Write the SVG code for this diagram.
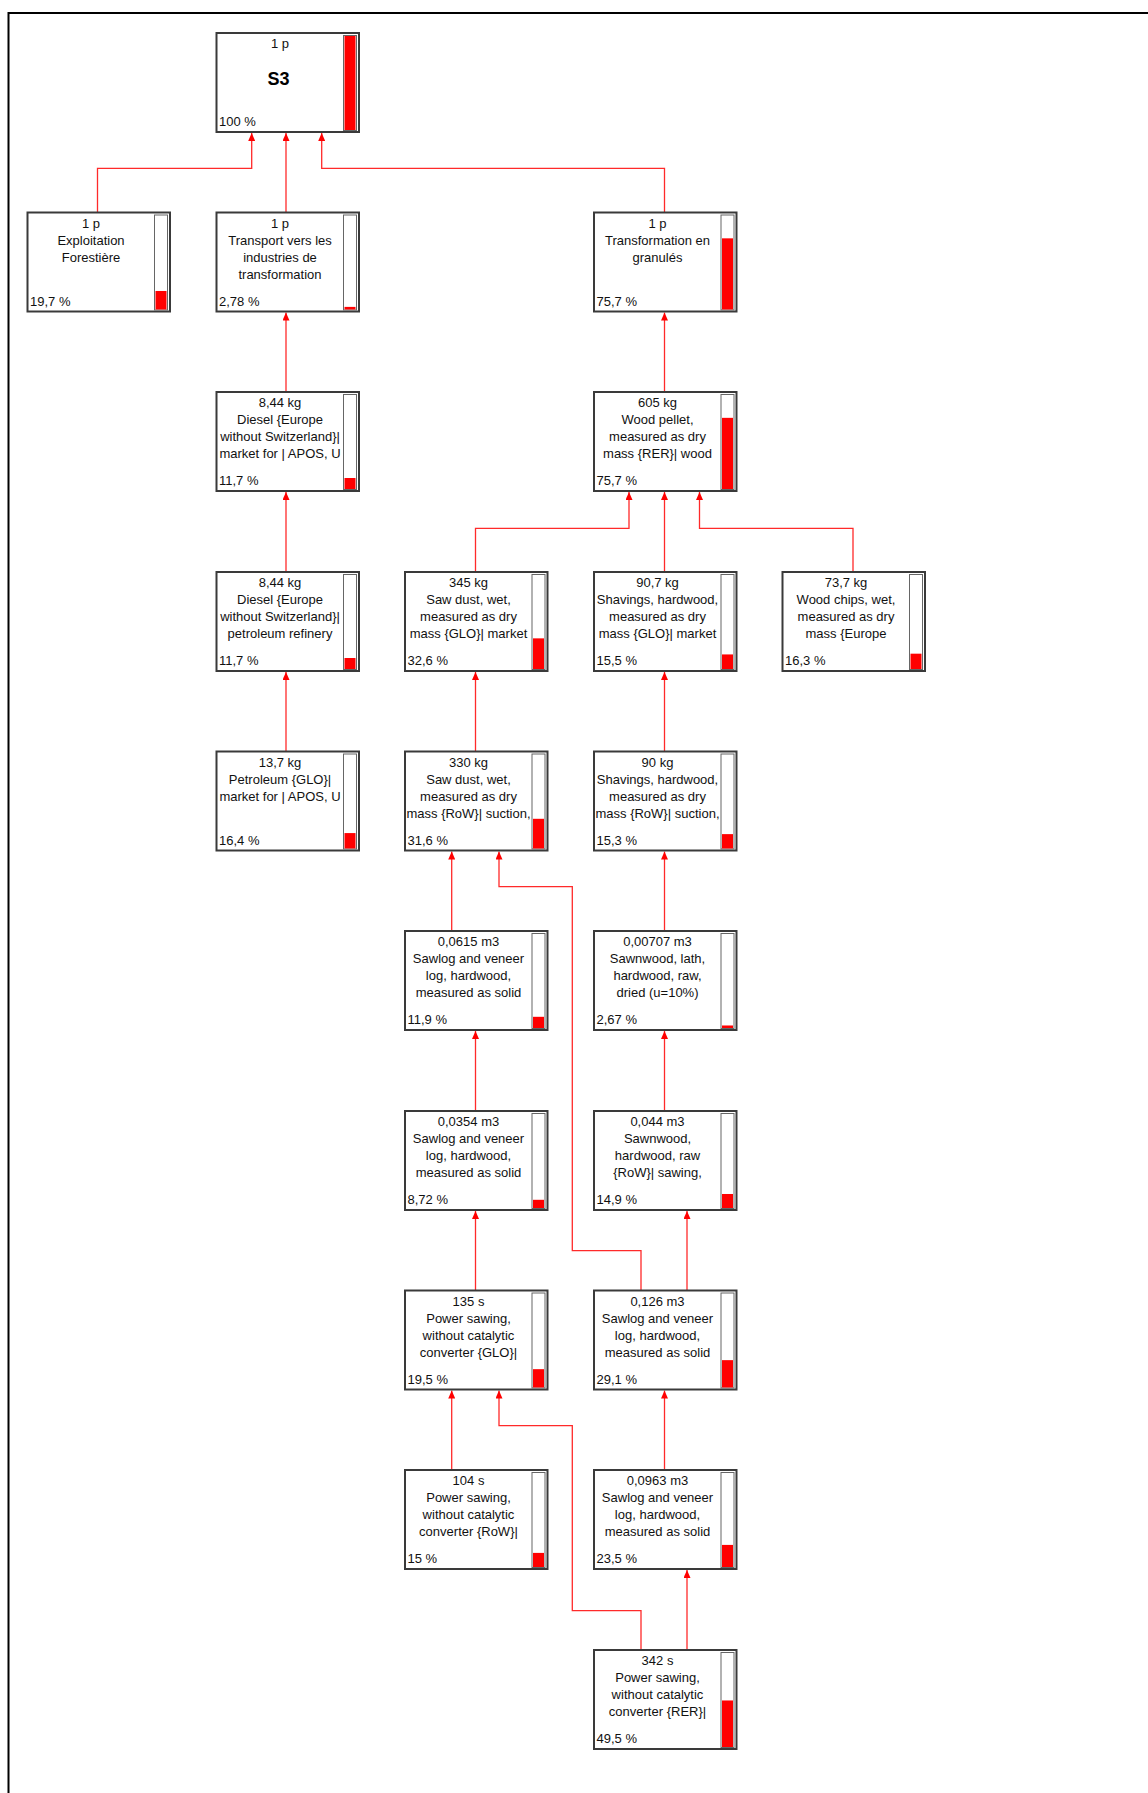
<svg xmlns="http://www.w3.org/2000/svg" width="1148" height="1793" viewBox="0 0 1148 1793">
<style>
.box{fill:#fff;stroke:#3a3a3a;stroke-width:2}
.bar{fill:#fff;stroke:#666;stroke-width:1}
.lvl{fill:#f00}
.t{font-family:"Liberation Sans",Arial,sans-serif;font-size:13px;fill:#111;text-anchor:middle}
.p{font-family:"Liberation Sans",Arial,sans-serif;font-size:13px;fill:#111;text-anchor:start}
.big{font-family:"Liberation Sans",Arial,sans-serif;font-size:18px;font-weight:bold;fill:#000;text-anchor:middle}
.wire{fill:none;stroke:#ff2a2a;stroke-width:1.3}
</style>
<defs>
<marker id="arr" viewBox="0 0 8 7" refX="8" refY="3.5" markerWidth="8" markerHeight="7" markerUnits="userSpaceOnUse" orient="auto">
<path d="M0,0 L8,3.5 L0,7 z" fill="#ff0000"/>
</marker>
</defs>
<rect width="1148" height="1793" fill="#fff"/>
<path d="M1148,13 H8.5 V1793" fill="none" stroke="#000" stroke-width="2"/>

<g id="connectors">
<path class="wire" marker-end="url(#arr)" d="M97.5,212.5 V168.3 H251.7 V133"/>
<path class="wire" marker-end="url(#arr)" d="M286,212.5 V133"/>
<path class="wire" marker-end="url(#arr)" d="M664.5,212.5 V168.3 H321.7 V133"/>
<path class="wire" marker-end="url(#arr)" d="M286,392 V312.5"/>
<path class="wire" marker-end="url(#arr)" d="M664.5,392 V312.5"/>
<path class="wire" marker-end="url(#arr)" d="M286,572 V492"/>
<path class="wire" marker-end="url(#arr)" d="M475.5,572 V528.3 H629 V492"/>
<path class="wire" marker-end="url(#arr)" d="M664.5,572 V492"/>
<path class="wire" marker-end="url(#arr)" d="M853,572 V528.3 H699.5 V492"/>
<path class="wire" marker-end="url(#arr)" d="M286,751.5 V672"/>
<path class="wire" marker-end="url(#arr)" d="M475.5,751.5 V672"/>
<path class="wire" marker-end="url(#arr)" d="M664.5,751.5 V672"/>
<path class="wire" marker-end="url(#arr)" d="M451.7,931 V851.5"/>
<path class="wire" marker-end="url(#arr)" d="M641,1290.5 V1250.7 H572.3 V886.7 H499 V851.5"/>
<path class="wire" marker-end="url(#arr)" d="M664.5,931 V851.5"/>
<path class="wire" marker-end="url(#arr)" d="M475.5,1111 V1031"/>
<path class="wire" marker-end="url(#arr)" d="M664.5,1111 V1031"/>
<path class="wire" marker-end="url(#arr)" d="M475.5,1290.5 V1211"/>
<path class="wire" marker-end="url(#arr)" d="M687,1290.5 V1211"/>
<path class="wire" marker-end="url(#arr)" d="M451.7,1470 V1390.5"/>
<path class="wire" marker-end="url(#arr)" d="M641,1650 V1610.7 H572.3 V1425.7 H499 V1390.5"/>
<path class="wire" marker-end="url(#arr)" d="M664.5,1470 V1390.5"/>
<path class="wire" marker-end="url(#arr)" d="M687,1650 V1570"/>
</g>

<g id="n-s3" transform="translate(216.5,33)">
<rect class="box" width="142.5" height="99"/>
<rect class="bar" x="127" y="2.5" width="13" height="95"/>
<rect class="lvl" x="128" y="3" width="11" height="94"/>
<text class="t" x="63.5" y="15">1 p</text>
<text class="big" x="62" y="52">S3</text>
<text class="p" x="2.5" y="93">100 %</text>
</g>

<g id="n-exploitation" transform="translate(27.5,212.5)">
<rect class="box" width="142.5" height="99"/>
<rect class="bar" x="127" y="2.5" width="13" height="95"/>
<rect class="lvl" x="128" y="78.48" width="11" height="18.52"/>
<text class="t" x="63.5" y="15">1 p</text>
<text class="t" x="63.5" y="32">Exploitation</text>
<text class="t" x="63.5" y="49">Forestière</text>
<text class="p" x="2.5" y="93">19,7 %</text>
</g>

<g id="n-transport" transform="translate(216.5,212.5)">
<rect class="box" width="142.5" height="99"/>
<rect class="bar" x="127" y="2.5" width="13" height="95"/>
<rect class="lvl" x="128" y="94.39" width="11" height="2.61"/>
<text class="t" x="63.5" y="15">1 p</text>
<text class="t" x="63.5" y="32">Transport vers les</text>
<text class="t" x="63.5" y="49">industries de</text>
<text class="t" x="63.5" y="66">transformation</text>
<text class="p" x="2.5" y="93">2,78 %</text>
</g>

<g id="n-transformation" transform="translate(594,212.5)">
<rect class="box" width="142.5" height="99"/>
<rect class="bar" x="127" y="2.5" width="13" height="95"/>
<rect class="lvl" x="128" y="25.84" width="11" height="71.16"/>
<text class="t" x="63.5" y="15">1 p</text>
<text class="t" x="63.5" y="32">Transformation en</text>
<text class="t" x="63.5" y="49">granulés</text>
<text class="p" x="2.5" y="93">75,7 %</text>
</g>

<g id="n-diesel-market" transform="translate(216.5,392)">
<rect class="box" width="142.5" height="99"/>
<rect class="bar" x="127" y="2.5" width="13" height="95"/>
<rect class="lvl" x="128" y="86" width="11" height="11"/>
<text class="t" x="63.5" y="15">8,44 kg</text>
<text class="t" x="63.5" y="32">Diesel {Europe</text>
<text class="t" x="63.5" y="49">without Switzerland}|</text>
<text class="t" x="63.5" y="66">market for | APOS, U</text>
<text class="p" x="2.5" y="93">11,7 %</text>
</g>

<g id="n-wood-pellet" transform="translate(594,392)">
<rect class="box" width="142.5" height="99"/>
<rect class="bar" x="127" y="2.5" width="13" height="95"/>
<rect class="lvl" x="128" y="25.84" width="11" height="71.16"/>
<text class="t" x="63.5" y="15">605 kg</text>
<text class="t" x="63.5" y="32">Wood pellet,</text>
<text class="t" x="63.5" y="49">measured as dry</text>
<text class="t" x="63.5" y="66">mass {RER}| wood</text>
<text class="p" x="2.5" y="93">75,7 %</text>
</g>

<g id="n-diesel-refinery" transform="translate(216.5,572)">
<rect class="box" width="142.5" height="99"/>
<rect class="bar" x="127" y="2.5" width="13" height="95"/>
<rect class="lvl" x="128" y="86" width="11" height="11"/>
<text class="t" x="63.5" y="15">8,44 kg</text>
<text class="t" x="63.5" y="32">Diesel {Europe</text>
<text class="t" x="63.5" y="49">without Switzerland}|</text>
<text class="t" x="63.5" y="66">petroleum refinery</text>
<text class="p" x="2.5" y="93">11,7 %</text>
</g>

<g id="n-sawdust-345" transform="translate(405,572)">
<rect class="box" width="142.5" height="99"/>
<rect class="bar" x="127" y="2.5" width="13" height="95"/>
<rect class="lvl" x="128" y="66.36" width="11" height="30.64"/>
<text class="t" x="63.5" y="15">345 kg</text>
<text class="t" x="63.5" y="32">Saw dust, wet,</text>
<text class="t" x="63.5" y="49">measured as dry</text>
<text class="t" x="63.5" y="66">mass {GLO}| market</text>
<text class="p" x="2.5" y="93">32,6 %</text>
</g>

<g id="n-shavings-907" transform="translate(594,572)">
<rect class="box" width="142.5" height="99"/>
<rect class="bar" x="127" y="2.5" width="13" height="95"/>
<rect class="lvl" x="128" y="82.43" width="11" height="14.57"/>
<text class="t" x="63.5" y="15">90,7 kg</text>
<text class="t" x="63.5" y="32">Shavings, hardwood,</text>
<text class="t" x="63.5" y="49">measured as dry</text>
<text class="t" x="63.5" y="66">mass {GLO}| market</text>
<text class="p" x="2.5" y="93">15,5 %</text>
</g>

<g id="n-wood-chips" transform="translate(782.5,572)">
<rect class="box" width="142.5" height="99"/>
<rect class="bar" x="127" y="2.5" width="13" height="95"/>
<rect class="lvl" x="128" y="81.68" width="11" height="15.32"/>
<text class="t" x="63.5" y="15">73,7 kg</text>
<text class="t" x="63.5" y="32">Wood chips, wet,</text>
<text class="t" x="63.5" y="49">measured as dry</text>
<text class="t" x="63.5" y="66">mass {Europe</text>
<text class="p" x="2.5" y="93">16,3 %</text>
</g>

<g id="n-petroleum" transform="translate(216.5,751.5)">
<rect class="box" width="142.5" height="99"/>
<rect class="bar" x="127" y="2.5" width="13" height="95"/>
<rect class="lvl" x="128" y="81.58" width="11" height="15.42"/>
<text class="t" x="63.5" y="15">13,7 kg</text>
<text class="t" x="63.5" y="32">Petroleum {GLO}|</text>
<text class="t" x="63.5" y="49">market for | APOS, U</text>
<text class="p" x="2.5" y="93">16,4 %</text>
</g>

<g id="n-sawdust-330" transform="translate(405,751.5)">
<rect class="box" width="142.5" height="99"/>
<rect class="bar" x="127" y="2.5" width="13" height="95"/>
<rect class="lvl" x="128" y="67.3" width="11" height="29.7"/>
<text class="t" x="63.5" y="15">330 kg</text>
<text class="t" x="63.5" y="32">Saw dust, wet,</text>
<text class="t" x="63.5" y="49">measured as dry</text>
<text class="t" x="63.5" y="66">mass {RoW}| suction,</text>
<text class="p" x="2.5" y="93">31,6 %</text>
</g>

<g id="n-shavings-90" transform="translate(594,751.5)">
<rect class="box" width="142.5" height="99"/>
<rect class="bar" x="127" y="2.5" width="13" height="95"/>
<rect class="lvl" x="128" y="82.62" width="11" height="14.38"/>
<text class="t" x="63.5" y="15">90 kg</text>
<text class="t" x="63.5" y="32">Shavings, hardwood,</text>
<text class="t" x="63.5" y="49">measured as dry</text>
<text class="t" x="63.5" y="66">mass {RoW}| suction,</text>
<text class="p" x="2.5" y="93">15,3 %</text>
</g>

<g id="n-sawlog-0615" transform="translate(405,931)">
<rect class="box" width="142.5" height="99"/>
<rect class="bar" x="127" y="2.5" width="13" height="95"/>
<rect class="lvl" x="128" y="85.81" width="11" height="11.19"/>
<text class="t" x="63.5" y="15">0,0615 m3</text>
<text class="t" x="63.5" y="32">Sawlog and veneer</text>
<text class="t" x="63.5" y="49">log, hardwood,</text>
<text class="t" x="63.5" y="66">measured as solid</text>
<text class="p" x="2.5" y="93">11,9 %</text>
</g>

<g id="n-sawnwood-lath" transform="translate(594,931)">
<rect class="box" width="142.5" height="99"/>
<rect class="bar" x="127" y="2.5" width="13" height="95"/>
<rect class="lvl" x="128" y="94.49" width="11" height="2.51"/>
<text class="t" x="63.5" y="15">0,00707 m3</text>
<text class="t" x="63.5" y="32">Sawnwood, lath,</text>
<text class="t" x="63.5" y="49">hardwood, raw,</text>
<text class="t" x="63.5" y="66">dried (u=10%)</text>
<text class="p" x="2.5" y="93">2,67 %</text>
</g>

<g id="n-sawlog-0354" transform="translate(405,1111)">
<rect class="box" width="142.5" height="99"/>
<rect class="bar" x="127" y="2.5" width="13" height="95"/>
<rect class="lvl" x="128" y="88.8" width="11" height="8.2"/>
<text class="t" x="63.5" y="15">0,0354 m3</text>
<text class="t" x="63.5" y="32">Sawlog and veneer</text>
<text class="t" x="63.5" y="49">log, hardwood,</text>
<text class="t" x="63.5" y="66">measured as solid</text>
<text class="p" x="2.5" y="93">8,72 %</text>
</g>

<g id="n-sawnwood-044" transform="translate(594,1111)">
<rect class="box" width="142.5" height="99"/>
<rect class="bar" x="127" y="2.5" width="13" height="95"/>
<rect class="lvl" x="128" y="82.99" width="11" height="14.01"/>
<text class="t" x="63.5" y="15">0,044 m3</text>
<text class="t" x="63.5" y="32">Sawnwood,</text>
<text class="t" x="63.5" y="49">hardwood, raw</text>
<text class="t" x="63.5" y="66">{RoW}| sawing,</text>
<text class="p" x="2.5" y="93">14,9 %</text>
</g>

<g id="n-powersaw-glo" transform="translate(405,1290.5)">
<rect class="box" width="142.5" height="99"/>
<rect class="bar" x="127" y="2.5" width="13" height="95"/>
<rect class="lvl" x="128" y="78.67" width="11" height="18.33"/>
<text class="t" x="63.5" y="15">135 s</text>
<text class="t" x="63.5" y="32">Power sawing,</text>
<text class="t" x="63.5" y="49">without catalytic</text>
<text class="t" x="63.5" y="66">converter {GLO}|</text>
<text class="p" x="2.5" y="93">19,5 %</text>
</g>

<g id="n-sawlog-126" transform="translate(594,1290.5)">
<rect class="box" width="142.5" height="99"/>
<rect class="bar" x="127" y="2.5" width="13" height="95"/>
<rect class="lvl" x="128" y="69.65" width="11" height="27.35"/>
<text class="t" x="63.5" y="15">0,126 m3</text>
<text class="t" x="63.5" y="32">Sawlog and veneer</text>
<text class="t" x="63.5" y="49">log, hardwood,</text>
<text class="t" x="63.5" y="66">measured as solid</text>
<text class="p" x="2.5" y="93">29,1 %</text>
</g>

<g id="n-powersaw-row" transform="translate(405,1470)">
<rect class="box" width="142.5" height="99"/>
<rect class="bar" x="127" y="2.5" width="13" height="95"/>
<rect class="lvl" x="128" y="82.9" width="11" height="14.1"/>
<text class="t" x="63.5" y="15">104 s</text>
<text class="t" x="63.5" y="32">Power sawing,</text>
<text class="t" x="63.5" y="49">without catalytic</text>
<text class="t" x="63.5" y="66">converter {RoW}|</text>
<text class="p" x="2.5" y="93">15 %</text>
</g>

<g id="n-sawlog-0963" transform="translate(594,1470)">
<rect class="box" width="142.5" height="99"/>
<rect class="bar" x="127" y="2.5" width="13" height="95"/>
<rect class="lvl" x="128" y="74.91" width="11" height="22.09"/>
<text class="t" x="63.5" y="15">0,0963 m3</text>
<text class="t" x="63.5" y="32">Sawlog and veneer</text>
<text class="t" x="63.5" y="49">log, hardwood,</text>
<text class="t" x="63.5" y="66">measured as solid</text>
<text class="p" x="2.5" y="93">23,5 %</text>
</g>

<g id="n-powersaw-rer" transform="translate(594,1650)">
<rect class="box" width="142.5" height="99"/>
<rect class="bar" x="127" y="2.5" width="13" height="95"/>
<rect class="lvl" x="128" y="50.47" width="11" height="46.53"/>
<text class="t" x="63.5" y="15">342 s</text>
<text class="t" x="63.5" y="32">Power sawing,</text>
<text class="t" x="63.5" y="49">without catalytic</text>
<text class="t" x="63.5" y="66">converter {RER}|</text>
<text class="p" x="2.5" y="93">49,5 %</text>
</g>
</svg>
